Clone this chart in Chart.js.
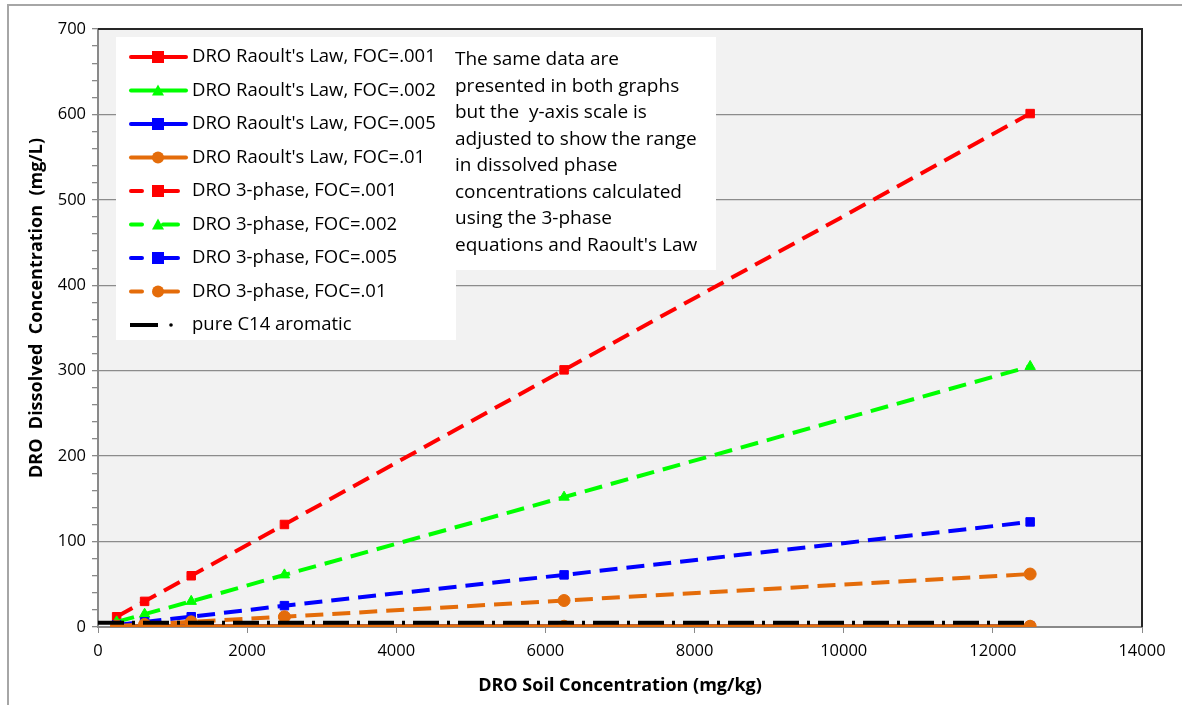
<!DOCTYPE html>
<html>
<head>
<meta charset="utf-8">
<script src="https://cdn.jsdelivr.net/npm/chart.js@4.4.0/dist/chart.umd.min.js"></script>
<style>
  html, body { margin: 0; padding: 0; background: #fff; }
  #wrap { position: absolute; left: 0; top: 0; width: 1182px; height: 705px; }
  #frame { position: absolute; left: 7px; top: 4px; width: 1190px; height: 720px; border: 2px solid #a6a6a6; box-sizing: border-box; }
</style>
</head>
<body>
<div id="wrap">
  <div id="frame"></div>
  <canvas id="chart" width="1182" height="705"></canvas>
</div>
<script>
// soil concentrations (mg/kg)
const soilConc = [250, 625, 1250, 2500, 6250, 12500];

// dissolved concentrations (mg/L)
const raoult001 = [0.9, 0.9, 0.9, 0.9, 0.9, 0.9];
const raoult002 = [0.9, 0.9, 0.9, 0.9, 0.9, 0.9];
const raoult005 = [0.9, 0.9, 0.9, 0.9, 0.9, 0.9];
const raoult01 = [0.9, 0.9, 0.9, 0.9, 0.9, 0.9];
const phase001 = [12, 30, 60, 120, 301, 601];
const phase002 = [6, 15, 30, 61, 152, 305];
const phase005 = [2.5, 6, 12, 25, 61, 123];
const phase01 = [1.2, 3, 6, 12, 31, 62];

// pure C14 aromatic solubility line
const pureX = [0, 12500];
const pureY = [5, 5];

const seriesNames = [
    "DRO Raoult's Law, FOC=.001",
    "DRO Raoult's Law, FOC=.002",
    "DRO Raoult's Law, FOC=.005",
    "DRO Raoult's Law, FOC=.01",
    'DRO 3-phase, FOC=.001',
    'DRO 3-phase, FOC=.002',
    'DRO 3-phase, FOC=.005',
    'DRO 3-phase, FOC=.01',
    'pure C14 aromatic'
];

const noteLines = [
    'The same data are',
    'presented in both graphs',
    'but the  y-axis scale is',
    'adjusted to show the range',
    'in dissolved phase',
    'concentrations calculated',
    'using the 3-phase',
    "equations and Raoult's Law"
];

const yTitle = 'DRO  Dissolved  Concentration  (mg/L)';

const RED = '#ff0000', GREEN = '#00ff00', BLUE = '#0000ff', ORANGE = '#e46c0a';

function pts(xs, ys) {
    return xs.map((x, i) => ({ x: x, y: ys[i] }));
}

function series(i, ys, color, shape, dashed) {
    return {
        label: seriesNames[i],
        data: pts(soilConc, ys),
        borderColor: color,
        backgroundColor: color,
        borderWidth: 4,
        borderDash: dashed ? [18, 9] : [],
        pointStyle: shape,
        pointRadius: 6,
        pointBorderWidth: 1,
        pointBorderColor: color,
        order: 10 - i
    };
}

const datasets = [
    series(0, raoult001, RED, 'rect', false),
    series(1, raoult002, GREEN, 'triangle', false),
    series(2, raoult005, BLUE, 'rect', false),
    series(3, raoult01, ORANGE, 'circle', false),
    series(4, phase001, RED, 'rect', true),
    series(5, phase002, GREEN, 'triangle', true),
    series(6, phase005, BLUE, 'rect', true),
    series(7, phase01, ORANGE, 'circle', true),
    {
        label: seriesNames[8],
        data: pts(pureX, pureY),
        borderColor: '#000000',
        backgroundColor: '#000000',
        borderWidth: 4,
        borderDash: [26, 8, 3, 8],
        pointRadius: 0,
        order: 1
    }
];

const FONT = '"Open Sans", sans-serif';

// plot background, frame, legend box, note box, y title
const decorPlugin = {
    id: 'decor',
    beforeDraw(chart) {
        const { ctx, chartArea: a } = chart;
        ctx.save();
        ctx.fillStyle = '#f2f2f2';
        ctx.fillRect(a.left, a.top, a.right - a.left, a.bottom - a.top);
        ctx.restore();
    },
    afterDraw(chart) {
        const { ctx, chartArea: a } = chart;
        ctx.save();
        // plot area border (top / right darker)
        ctx.strokeStyle = '#262626';
        ctx.lineWidth = 2;
        ctx.beginPath();
        ctx.moveTo(a.left, a.top);
        ctx.lineTo(a.right, a.top);
        ctx.lineTo(a.right, a.bottom);
        ctx.stroke();

        // y axis title
        ctx.save();
        ctx.translate(37, 308);
        ctx.rotate(-Math.PI / 2);
        ctx.font = 'bold 18px ' + FONT;
        ctx.fillStyle = '#000';
        ctx.textAlign = 'center';
        ctx.textBaseline = 'middle';
        ctx.fillText(yTitle, 0, 0);
        ctx.restore();

        // legend box
        ctx.fillStyle = '#ffffff';
        ctx.fillRect(116, 37, 340, 303);
        ctx.font = '18.5px ' + FONT;
        ctx.textBaseline = 'middle';
        ctx.textAlign = 'left';
        chart.data.datasets.forEach((ds, i) => {
            const y = 57 + i * 33.5;
            ctx.strokeStyle = ds.borderColor;
            ctx.lineWidth = 4;
            ctx.setLineDash([]);
            ctx.lineCap = 'round';
            ctx.beginPath();
            if (i < 4) {
                ctx.moveTo(131, y); ctx.lineTo(186, y);
            } else if (i < 8) {
                ctx.moveTo(131, y); ctx.lineTo(142, y);
                ctx.moveTo(163, y); ctx.lineTo(178, y);
            } else {
                ctx.lineCap = 'butt';
                ctx.moveTo(130, y); ctx.lineTo(158, y);
            }
            ctx.stroke();
            if (i === 8) {
                ctx.fillStyle = '#000';
                ctx.beginPath();
                ctx.arc(171, y, 1.8, 0, Math.PI * 2);
                ctx.fill();
            } else {
                const cx = 158;
                ctx.fillStyle = ds.backgroundColor;
                ctx.beginPath();
                if (ds.pointStyle === 'rect') {
                    ctx.rect(cx - 6, y - 6, 12, 12);
                } else if (ds.pointStyle === 'circle') {
                    ctx.arc(cx, y, 6, 0, Math.PI * 2);
                } else {
                    ctx.moveTo(cx, y - 6);
                    ctx.lineTo(cx + 6, y + 5);
                    ctx.lineTo(cx - 6, y + 5);
                    ctx.closePath();
                }
                ctx.fill();
            }
            ctx.fillStyle = '#000000';
            ctx.fillText(ds.label, 192, y);
        });

        // note box
        ctx.fillStyle = '#ffffff';
        ctx.fillRect(446, 37, 270, 233);
        ctx.fillStyle = '#000000';
        ctx.font = '19px ' + FONT;
        noteLines.forEach((line, i) => {
            ctx.fillText(line, 455, 60 + i * 26.5);
        });
        ctx.restore();
    }
};

const ctx = document.getElementById('chart').getContext('2d');
const chart = new Chart(ctx, {
    type: 'line',
    data: { datasets: datasets },
    plugins: [decorPlugin],
    options: {
        responsive: false,
        animation: false,
        layout: { padding: { top: 29, right: 40, left: 14, bottom: 4 } },
        plugins: {
            legend: { display: false },
            tooltip: { enabled: false }
        },
        scales: {
            x: {
                type: 'linear',
                min: 0,
                max: 14000,
                border: { color: '#898989', width: 2 },
                grid: { drawOnChartArea: false, tickLength: 6, color: '#898989' },
                ticks: {
                    stepSize: 2000,
                    color: '#000',
                    padding: 8,
                    maxRotation: 0,
                    font: { family: FONT, size: 16.5 },
                    callback: v => String(v)
                },
                title: {
                    display: true,
                    text: 'DRO Soil Concentration (mg/kg)',
                    color: '#000',
                    padding: { top: 3 },
                    font: { family: FONT, size: 18, weight: 'bold' }
                },
                afterFit(scale) { scale.height = 74; }
            },
            y: {
                min: 0,
                max: 700,
                border: { color: '#898989', width: 2 },
                grid: {
                    tickLength: 6,
                    lineWidth: 1.3,
                    color: c => (c.tick && c.tick.value % 100 === 0 && c.tick.value > 0) ? '#8c8c8c' : 'transparent',
                    tickColor: '#898989'
                },
                ticks: {
                    stepSize: 20,
                    autoSkip: false,
                    color: '#000',
                    padding: 6,
                    font: { family: FONT, size: 16.5 },
                    callback: v => (v % 100 === 0 ? String(v) : '')
                },
                title: { display: false },
                afterFit(scale) { scale.width = 84; }
            }
        }
    }
});
</script>
</body>
</html>
